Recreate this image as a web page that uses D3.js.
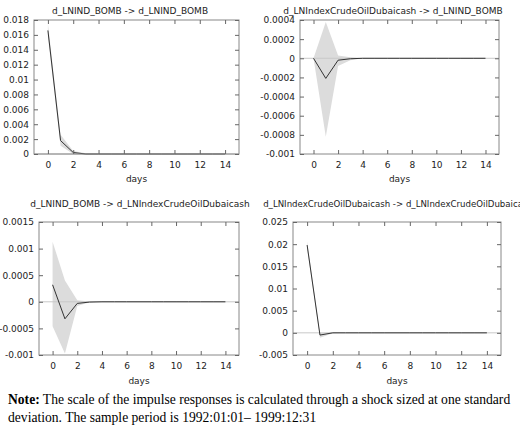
<!DOCTYPE html>
<html><head><meta charset="utf-8">
<script src="https://cdn.jsdelivr.net/npm/d3@7"></script>
<style>body{margin:0;background:#fff}svg{display:block}</style>
</head><body>
<svg id="c" width="520" height="436"></svg>
<script>
const days = d3.range(0,15);
const titles = ["d_LNIND_BOMB -> d_LNIND_BOMB","d_LNIndexCrudeOilDubaicash -> d_LNIND_BOMB","d_LNIND_BOMB -> d_LNIndexCrudeOilDubaicash","d_LNIndexCrudeOilDubaicash -> d_LNIndexCrudeOilDubaicash"];
const xTicks = [0,2,4,6,8,10,12,14];
const yTicks1 = [0,0.002,0.004,0.006,0.008,0.01,0.012,0.014,0.016,0.018];
const yTicks2 = [-0.001,-0.0008,-0.0006,-0.0004,-0.0002,0,0.0002,0.0004];
const yTicks3 = [-0.001,-0.0005,0,0.0005,0.001,0.0015];
const yTicks4 = [-0.005,0,0.005,0.01,0.015,0.02,0.025];
const mean1 = [0.0166,0.0018,0.0002,0,0,0,0,0,0,0,0,0,0,0,0];
const lo1   = [0.0158,0.0011,0,-0.0001,0,0,0,0,0,0,0,0,0,0,0];
const hi1   = [0.0175,0.0026,0.0004,0.0001,0,0,0,0,0,0,0,0,0,0,0];
const mean2 = [0,-0.00021,-0.00002,-0.000005,0,0,0,0,0,0,0,0,0,0,0];
const lo2   = [0,-0.00082,-0.00008,-0.00002,0,0,0,0,0,0,0,0,0,0,0];
const hi2   = [0,0.00038,0.00003,0.00001,0,0,0,0,0,0,0,0,0,0,0];
const mean3 = [0.00032,-0.00032,-0.00003,-0.000005,0,0,0,0,0,0,0,0,0,0,0];
const lo3   = [-0.00046,-0.00097,-0.00008,-0.00001,0,0,0,0,0,0,0,0,0,0,0];
const hi3   = [0.00113,0.0004,0.00003,0.000005,0,0,0,0,0,0,0,0,0,0,0];
const mean4 = [0.0198,-0.0005,0,0,0,0,0,0,0,0,0,0,0,0,0];
const lo4   = [0.019,-0.0011,-0.0001,0,0,0,0,0,0,0,0,0,0,0,0];
const hi4   = [0.0206,-0.0001,0.0001,0,0,0,0,0,0,0,0,0,0,0,0];

const panels = [
 {t:titles[0],yt:yTicks1,dom:[0,0.018],m:mean1,lo:lo1,hi:hi1,box:[34,239,20,154],tx:130,ty:14,dy:182,fs:9},
 {t:titles[1],yt:yTicks2,dom:[-0.001,0.0004],m:mean2,lo:lo2,hi:hi2,box:[300,499,20,154],tx:393,ty:14,dy:182,fs:9},
 {t:titles[2],yt:yTicks3,dom:[-0.001,0.0015],m:mean3,lo:lo3,hi:hi3,box:[39,239,222,355],tx:140,ty:207,dy:384,fs:9},
 {t:titles[3],yt:yTicks4,dom:[-0.005,0.025],m:mean4,lo:lo4,hi:hi4,box:[293,501,222,355],tx:398,ty:207,dy:384,fs:8.6}
];
const svg = d3.select("#c");
const fmt = v => { if (Math.abs(v)<1e-12) return "0"; return String(+v.toPrecision(6)); };
const font = "DejaVu Sans, Verdana, sans-serif";
panels.forEach(p=>{
  const [l,r,t,b]=p.box;
  const x = d3.scaleLinear().domain([-1.1,15.1]).range([l,r]);
  const y = d3.scaleLinear().domain(p.dom).range([b,t]);
  const g = svg.append("g");
  g.append("path").datum(days).attr("fill","#dcdcdc")
   .attr("d", d3.area().x(d=>x(d)).y0(d=>y(p.lo[d])).y1(d=>y(p.hi[d])));
  g.append("line").attr("x1",l).attr("x2",r).attr("y1",y(0)).attr("y2",y(0)).attr("stroke","#c8c8c8").attr("stroke-width",1);
  g.append("path").datum(days).attr("fill","none").attr("stroke","#333").attr("stroke-width",1)
   .attr("d", d3.line().x(d=>x(d)).y(d=>y(p.m[d])));
  g.append("rect").attr("x",l).attr("y",t).attr("width",r-l).attr("height",b-t).attr("fill","none").attr("stroke","#888");
  const ax = (axis, tr) => {
    const a = g.append("g").attr("transform",tr).call(axis);
    a.select(".domain").remove();
    a.selectAll("line").attr("stroke","#666");
    a.selectAll("text").attr("font-family",font).attr("font-size",9).attr("fill","#222");
    return a;
  };
  ax(d3.axisBottom(x).tickValues(xTicks).tickSize(-4).tickPadding(8).tickFormat(d3.format("d")),`translate(0,${b})`);
  ax(d3.axisTop(x).tickValues(xTicks).tickSize(-4).tickFormat(""),`translate(0,${t})`);
  ax(d3.axisLeft(y).tickValues(p.yt).tickSize(-4).tickPadding(5).tickFormat(fmt),`translate(${l},0)`);
  ax(d3.axisRight(y).tickValues(p.yt).tickSize(-4).tickFormat(""),`translate(${r},0)`);
  svg.append("text").attr("x",p.tx).attr("y",p.ty).attr("text-anchor","middle").attr("font-family",font).attr("font-size",p.fs).attr("fill","#222").text(p.t);
  svg.append("text").attr("x",(l+r)/2).attr("y",p.dy).attr("text-anchor","middle").attr("font-family",font).attr("font-size",9).attr("fill","#222").text("days");
});
const note = svg.append("text").attr("font-family","Liberation Serif, Times New Roman, serif").attr("font-size",13.6).attr("fill","#000");
const l1 = note.append("tspan").attr("x",8).attr("y",404);
l1.append("tspan").attr("font-weight","bold").text("Note:");
l1.append("tspan").text(" The scale of the impulse responses is calculated through a shock sized at one standard");
note.append("tspan").attr("x",8).attr("y",422).text("deviation. The sample period is 1992:01:01\u2013 1999:12:31");
</script>
</body></html>
